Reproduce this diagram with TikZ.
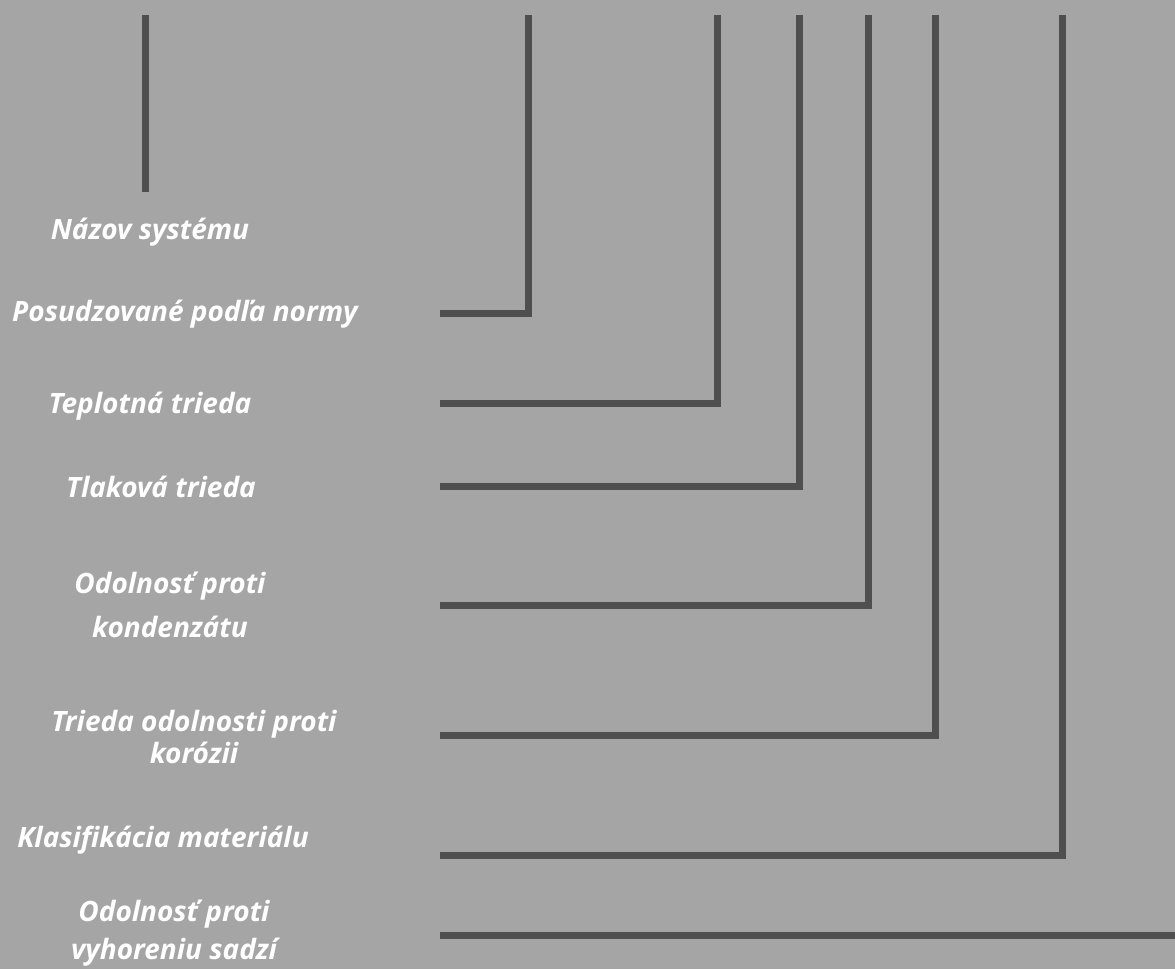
\documentclass[tikz,border=0pt]{standalone}
\usepackage{fontspec}
\setmainfont{Open Sans}
\usetikzlibrary{positioning}
\definecolor{bggray}{HTML}{A5A5A5}
\definecolor{linegray}{HTML}{4F4F4F}

\begin{document}
\begin{tikzpicture}[
        x=1pt, y=-1pt,
        every node/.style={font=\fontsize{28}{38}\selectfont\bfseries\itshape, text=white, inner sep=0pt},
        label/.style={anchor=base, align=center},
        leader/.style={draw=linegray, line width=7pt}
    ]
        % Background
        \fill[bggray] (0,0) rectangle (1175,969);
        \useasboundingbox (0,0) rectangle (1175,969);

        % Nodes
        \node[label] (name) at (150,239) {Názov systému};
        \node[label] (norm) at (185,321) {Posudzované podľa normy};
        \node[label] (temp) at (150,413) {Teplotná trieda};
        \node[label] (press) at (161,497) {Tlaková trieda};
        \node[label] (cond) at (170,637) {Odolnosť proti\\[6pt] kondenzátu};
        \node[label] (corr) at (194,763) {Trieda odolnosti proti\\[-6pt] korózii};
        \node[label] (mat) at (163,847) {Klasifikácia materiálu};
        \node[label] (soot) at (174,959) {Odolnosť proti\\ vyhoreniu sadzí};

        % Leader ends
        \coordinate (t0) at (145,15);
        \coordinate (e0) at (145,192);
        \coordinate (t1) at (528,15);
        \coordinate (e1) at (440,313);
        \coordinate (t2) at (717,15);
        \coordinate (e2) at (440,403);
        \coordinate (t3) at (799,15);
        \coordinate (e3) at (440,486);
        \coordinate (t4) at (868,15);
        \coordinate (e4) at (440,605);
        \coordinate (t5) at (935,15);
        \coordinate (e5) at (440,735);
        \coordinate (t6) at (1062,15);
        \coordinate (e6) at (440,855);
        \coordinate (t7) at (1175,935);
        \coordinate (e7) at (440,935);

        % Lines
        \draw[leader] (t0) -- (e0);
        \draw[leader] (t1) |- (e1);
        \draw[leader] (t2) |- (e2);
        \draw[leader] (t3) |- (e3);
        \draw[leader] (t4) |- (e4);
        \draw[leader] (t5) |- (e5);
        \draw[leader] (t6) |- (e6);
        \draw[leader] (t7) -- (e7);

    \end{tikzpicture}
\end{document}
